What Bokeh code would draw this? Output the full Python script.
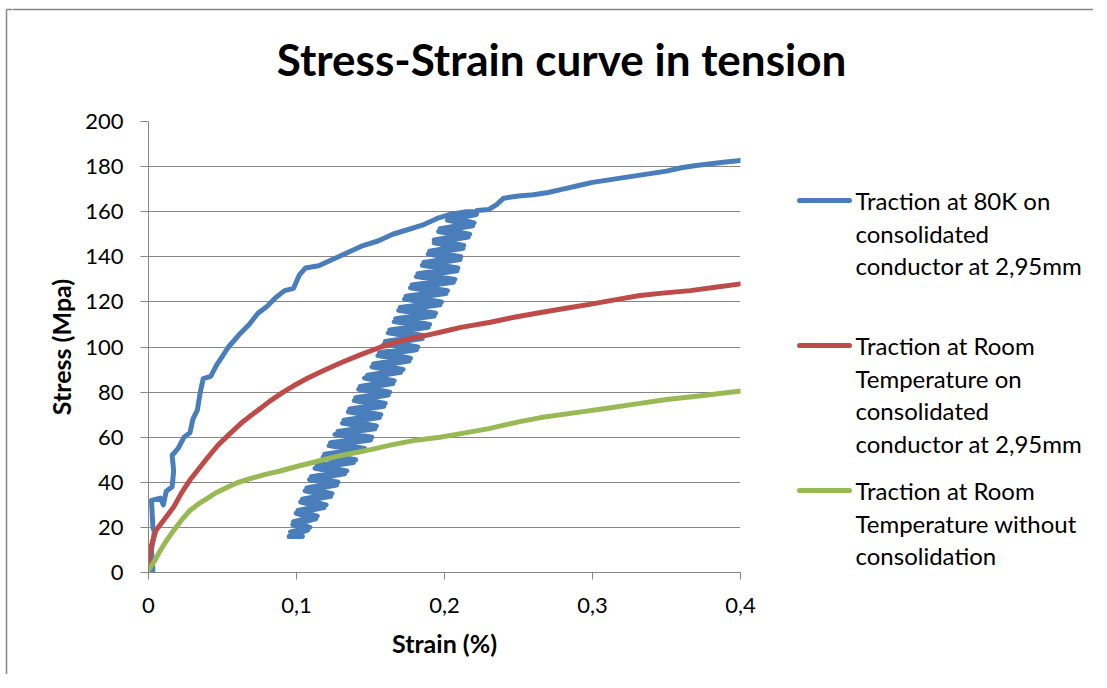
from bokeh.plotting import figure
from bokeh.models import FixedTicker, Range1d
from bokeh.layouts import column, row
from bokeh.core.properties import value
from bokeh.embed import file_html
from bokeh.resources import INLINE

# ---------------- data ----------------
chart_title = "Stress-Strain curve in tension"
x_label = "Strain (%)"
y_label = "Stress (Mpa)"
x_ticks = [0, 0.1, 0.2, 0.3, 0.4]
x_tick_labels = ["0", "0,1", "0,2", "0,3", "0,4"]
y_ticks = [0, 20, 40, 60, 80, 100, 120, 140, 160, 180, 200]

series_names = [
    ["Traction at 80K on", "consolidated", "conductor at 2,95mm"],
    ["Traction at Room", "Temperature on", "consolidated", "conductor at 2,95mm"],
    ["Traction at Room", "Temperature without", "consolidation"],
]
series_colors = ["#4A7EBB", "#BE4B48", "#98B954"]

# 80K: loading, unloading (noisy band), reloading (noisy band), continued loading
blue_strain = [
    0.000, 0.003, 0.002, 0.004, 0.003, 0.002, 0.008, 0.010, 0.012, 0.016, 0.017, 0.016,
    0.020, 0.024, 0.028, 0.030, 0.033, 0.035, 0.037, 0.042, 0.046, 0.050, 0.054, 0.058,
    0.062, 0.068, 0.074, 0.080, 0.086, 0.092, 0.098, 0.102, 0.106, 0.115, 0.125, 0.135,
    0.145, 0.155, 0.165, 0.175, 0.185, 0.195, 0.205, 0.215, 0.222,
    # unloading
    0.205, 0.220, 0.197, 0.217, 0.193, 0.213, 0.190, 0.211, 0.186, 0.209, 0.182, 0.207,
    0.178, 0.202, 0.174, 0.198, 0.170, 0.194, 0.167, 0.190, 0.163, 0.186, 0.160, 0.182,
    0.156, 0.177, 0.152, 0.172, 0.148, 0.166, 0.143, 0.163, 0.140, 0.160, 0.136, 0.157,
    0.132, 0.154, 0.128, 0.151, 0.123, 0.146, 0.119, 0.140, 0.114, 0.134, 0.110, 0.128,
    0.107, 0.124, 0.104, 0.120, 0.101, 0.114, 0.098, 0.109, 0.096, 0.104, 0.095,
    # reloading
    0.1075, 0.0975, 0.113, 0.0998, 0.1185, 0.1028, 0.123, 0.1058, 0.127, 0.1088, 0.1325,
    0.1125, 0.1385, 0.118, 0.1445, 0.122, 0.150, 0.126, 0.153, 0.131, 0.156, 0.135,
    0.159, 0.139, 0.162, 0.142, 0.165, 0.146, 0.1705, 0.151, 0.176, 0.155, 0.181,
    0.159, 0.185, 0.162, 0.189, 0.166, 0.193, 0.169, 0.197, 0.173, 0.201, 0.177,
    0.206, 0.181, 0.2085, 0.185, 0.2105, 0.189, 0.2125, 0.193, 0.216, 0.196, 0.219,
    0.202, 0.2215, 0.222,
    # continued loading
    0.230, 0.235, 0.240, 0.250, 0.260, 0.270, 0.280, 0.290, 0.300, 0.310, 0.320, 0.330,
    0.340, 0.350, 0.360, 0.370, 0.380, 0.390, 0.400,
]
blue_stress = [
    0.5, 1, 10, 18, 20, 32, 33, 30, 36, 38, 45, 52,
    55, 60, 62, 68, 72, 80, 86, 87, 92, 96, 100, 103,
    106, 110, 115, 118, 122, 125, 126, 132, 135, 136, 139, 142,
    145, 147, 150, 152, 154, 157, 159, 160, 160,
    157.5, 155, 152.5, 150, 147.5, 145, 142.5, 140, 137.5, 135, 132.5, 130,
    127.5, 125, 122.5, 120, 117.5, 115, 112.5, 110, 107.5, 105, 102.5, 100,
    97.5, 95, 92.5, 90, 87.5, 85, 82.5, 80, 77.5, 75, 72.5, 70,
    67.5, 65, 62.5, 60, 57.5, 55, 52.5, 50, 47.5, 45, 42.5, 40,
    37.5, 35, 32.5, 30, 27.5, 25, 22.5, 20, 18, 16, 16,
    18.75, 21.25, 23.75, 26.25, 28.75, 31.25, 33.75, 36.25, 38.75, 41.25, 43.75,
    46.25, 48.75, 51.25, 53.75, 56.25, 58.75, 61.25, 63.75, 66.25, 68.75, 71.25,
    73.75, 76.25, 78.75, 81.25, 83.75, 86.25, 88.75, 91.25, 93.75, 96.25, 98.75,
    101.25, 103.75, 106.25, 108.75, 111.25, 113.75, 116.25, 118.75, 121.25, 123.75, 126.25,
    128.75, 131.25, 133.75, 136.25, 138.75, 141.25, 143.75, 146.25, 148.75, 151.25, 153.75,
    156.25, 158.75, 160.5,
    161, 163, 166, 167, 167.5, 168.5, 170, 171.5, 173, 174, 175, 176,
    177, 178, 179.5, 180.5, 181.3, 182, 182.7,
]

red_strain = [0.000, 0.002, 0.005, 0.010, 0.017, 0.022, 0.028, 0.034, 0.040, 0.047, 0.055,
              0.064, 0.074, 0.082, 0.091, 0.100, 0.107, 0.118, 0.130, 0.143, 0.157, 0.168,
              0.179, 0.190, 0.200, 0.211, 0.231, 0.248, 0.265, 0.282, 0.299, 0.316, 0.332,
              0.349, 0.366, 0.383, 0.400]
red_stress = [4, 12, 18.6, 23, 29, 35, 41, 46, 51, 56.5, 61.6,
              67, 72, 76, 80, 83.5, 86, 89.5, 93, 96.5, 100, 102.3,
              104, 105.5, 107, 108.7, 111, 113.3, 115.3, 117.2, 119, 121, 122.8,
              124, 125, 126.5, 128]

green_strain = [0.000, 0.004, 0.008, 0.012, 0.017, 0.022, 0.028, 0.034, 0.040, 0.046, 0.053,
                0.060, 0.069, 0.079, 0.089, 0.100, 0.111, 0.120, 0.130, 0.150, 0.165, 0.179,
                0.197, 0.211, 0.230, 0.250, 0.265, 0.290, 0.310, 0.332, 0.350, 0.375, 0.400]
green_stress = [1, 5, 9.8, 14, 18.6, 23, 27.5, 30.5, 33, 35.5, 37.7,
                39.8, 41.7, 43.5, 45, 47, 48.8, 50.4, 51.9, 54.5, 56.7, 58.5,
                60, 61.6, 63.8, 66.8, 68.7, 71, 72.8, 75, 76.7, 78.5, 80.5]

# ---------------- layout geometry (page pixels) ----------------
FONT = "Lato"
GRID = "#868686"
TOTAL_W, TOTAL_H = 1093, 674
STRIP_W = 12
TITLE_H = 100
MAIN_X1 = 760
FRAME_L, FRAME_R, FRAME_T, FRAME_B = 148, 740, 121, 572
BORDER_X, BORDER_Y = 6, 9
BODY_H = TOTAL_H - TITLE_H


def pixel_fig(x0, y0, w, h, top=0, bottom=0):
    f = figure(width=w, height=h, x_range=Range1d(x0, x0 + w),
               y_range=Range1d(y0 + h - bottom, y0 + top),
               x_axis_type=None, y_axis_type=None, toolbar_location=None,
               output_backend="svg", min_border=0,
               min_border_top=top, min_border_bottom=bottom)
    f.outline_line_color = None
    f.background_fill_color = "white"
    f.border_fill_color = "white"
    return f


# left strip carrying the chart border
strip_fig = pixel_fig(0, 0, STRIP_W, TOTAL_H)
strip_fig.segment(x0=[BORDER_X, BORDER_X], y0=[BORDER_Y, BORDER_Y],
                  x1=[BORDER_X, STRIP_W], y1=[TOTAL_H, BORDER_Y],
                  line_color=GRID, line_width=1.5)

# title strip
title_fig = pixel_fig(STRIP_W, 0, TOTAL_W - STRIP_W, TITLE_H)
title_fig.segment(x0=[STRIP_W], y0=[BORDER_Y], x1=[TOTAL_W], y1=[BORDER_Y],
                  line_color=GRID, line_width=1.5)
title_fig.text(x=[561], y=[58], text=[chart_title], text_align="center", text_baseline="middle",
               text_font=value(FONT), text_font_size=value("44px"), text_font_style="bold",
               text_color="black")

# main chart
p = figure(width=MAIN_X1 - STRIP_W, height=BODY_H, x_range=Range1d(0, 0.4), y_range=Range1d(0, 200),
           output_backend="svg", toolbar_location=None,
           min_border_left=FRAME_L - STRIP_W, min_border_right=MAIN_X1 - FRAME_R,
           min_border_top=FRAME_T - TITLE_H, min_border_bottom=TOTAL_H - FRAME_B)
p.outline_line_color = None
p.background_fill_color = "white"
p.border_fill_color = "white"

p.xgrid.visible = False
p.ygrid.grid_line_color = GRID
p.ygrid.grid_line_width = 1

p.xaxis.ticker = FixedTicker(ticks=x_ticks)
p.xaxis.major_label_overrides = {t: s for t, s in zip(x_ticks, x_tick_labels)}
p.yaxis.ticker = FixedTicker(ticks=y_ticks)

for ax in (p.xaxis[0], p.yaxis[0]):
    ax.axis_line_color = GRID
    ax.major_tick_line_color = GRID
    ax.minor_tick_line_color = None
    ax.major_tick_in = 0
    ax.major_label_text_font = FONT
    ax.major_label_text_font_size = "22px"
    ax.major_label_text_color = "black"
    ax.axis_label_text_font = FONT
    ax.axis_label_text_font_size = "25px"
    ax.axis_label_text_font_style = "bold"
    ax.axis_label_text_color = "black"

p.yaxis.major_tick_out = 8
p.yaxis.major_label_standoff = 17
p.yaxis.axis_label = y_label
p.yaxis.axis_label_standoff = 6

p.xaxis.major_tick_out = 7
p.xaxis.major_label_standoff = 18
p.xaxis.axis_label = x_label
p.xaxis.axis_label_standoff = 12

for xs, ys, c in [(blue_strain, blue_stress, series_colors[0]),
                  (red_strain, red_stress, series_colors[1]),
                  (green_strain, green_stress, series_colors[2])]:
    p.line(xs, ys, line_color=c, line_width=5, line_join="round", line_cap="round")

# legend panel (frame aligned with the main chart's frame)
leg = pixel_fig(MAIN_X1, TITLE_H, TOTAL_W - MAIN_X1, BODY_H,
                top=FRAME_T - TITLE_H, bottom=TOTAL_H - FRAME_B)
legend_first_y = [200, 345, 490]
LINE_STEP = 32.7
leg.segment(x0=[799] * 3, x1=[849] * 3, y0=legend_first_y, y1=legend_first_y,
            line_color=series_colors, line_width=5, line_cap="round")
tx, ty, tt = [], [], []
for names, y0 in zip(series_names, legend_first_y):
    for i, t in enumerate(names):
        tx.append(855)
        ty.append(y0 + LINE_STEP * i)
        tt.append(t)
leg.text(x=tx, y=ty, text=tt, text_align="left", text_baseline="middle",
         text_font=value(FONT), text_font_size=value("24px"), text_color="black")

layout = row(strip_fig, column(title_fig, row(p, leg, spacing=0), spacing=0), spacing=0)

open("out.html", "w").write(file_html(layout, INLINE))
